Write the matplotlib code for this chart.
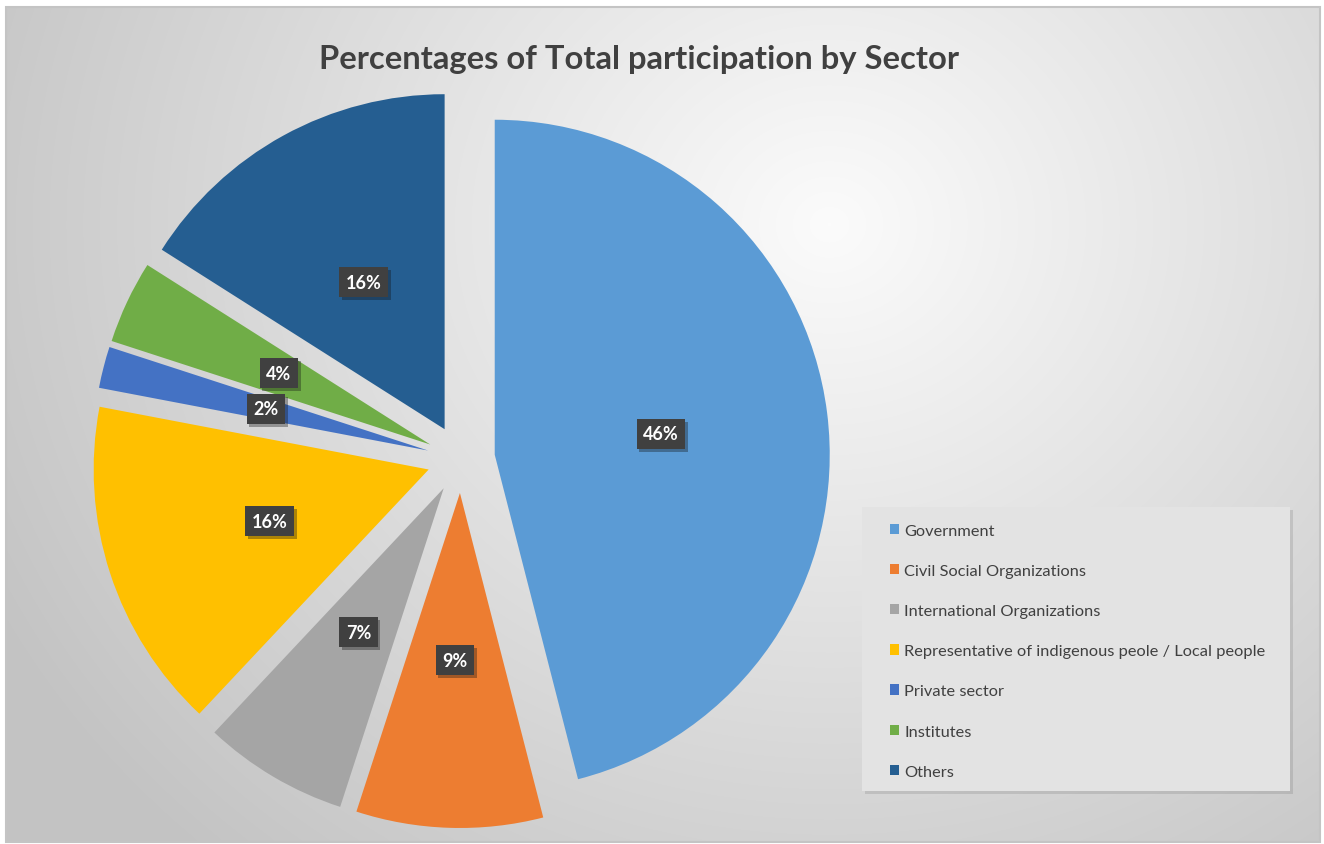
import matplotlib
matplotlib.use('Agg')
import matplotlib.pyplot as plt
import matplotlib.patheffects as pe
from matplotlib.patches import Rectangle
import numpy as np

sectors = ['Government', 'Civil Social Organizations', 'International Organizations',
           'Representative of indigenous peole / Local people', 'Private sector',
           'Institutes', 'Others']
shares = [46, 9, 7, 16, 2, 4, 16]
colors = ['#5B9BD5', '#ED7D31', '#A5A5A5', '#FFC000', '#4472C4', '#70AD47', '#255E91']

W, H = 1324, 845
plt.rcParams['font.family'] = ['Lato', 'DejaVu Sans']

fig = plt.figure(figsize=(W / 100, H / 100), dpi=100)
fig.patch.set_facecolor('white')

# chart area with soft radial gradient
bg = fig.add_axes([0, 0, 1, 1])
bg.set_xlim(0, W)
bg.set_ylim(0, H)
bg.axis('off')
x0, x1, y0, y1 = 6, 1320, 2, 837
gx, gy = np.meshgrid(np.linspace(x0, x1, 400), np.linspace(y1, y0, 260))
d = np.sqrt(((gx - 830) / 1.0) ** 2 + ((gy - 620) / 0.9) ** 2)
shade = 0.985 - 0.22 * np.clip(d / 950, 0, 1) ** 1.0
bg.imshow(np.dstack([shade] * 3), extent=(x0, x1, y0, y1), origin='upper',
          aspect='auto', interpolation='bicubic', zorder=0)
bg.add_patch(Rectangle((x0, y0), x1 - x0, y1 - y0, fill=False, edgecolor='#c4c4c4', lw=1.5, zorder=1))

ax = fig.add_axes([0, 0, 1, 1])
ax.patch.set_alpha(0)
wedges, texts, autotexts = ax.pie(
    shares, colors=colors, explode=[34] * len(shares), radius=335, center=(461, 385),
    startangle=90, counterclock=False, autopct='%1.0f%%', pctdistance=0.5,
    wedgeprops=dict(linewidth=0))
ax.set_xlim(0, W)
ax.set_ylim(0, H)
ax.axis('off')

for t in autotexts:
    t.set_color('white')
    t.set_fontsize(13)
    t.set_fontweight('bold')
    t.set_bbox(dict(boxstyle='square,pad=0.36', facecolor='#404040', edgecolor='none'))
    t.get_bbox_patch().set_path_effects([pe.SimplePatchShadow(offset=(2, -2), alpha=0.35), pe.Normal()])

ax.text(639, H - 59, 'Percentages of Total participation by Sector', ha='center', va='center',
        fontsize=23.6, fontweight='bold', color='#404040')

# legend panel
ax.add_patch(Rectangle((862, H - 792), 428, 284, facecolor='#e3e3e3', edgecolor='none',
                       path_effects=[pe.SimplePatchShadow(offset=(2, -2), alpha=0.15), pe.Normal()]))
leg = ax.legend(wedges, sectors, loc='upper left', bbox_to_anchor=(883 / W, 1 - 518 / H),
                frameon=False, fontsize=11.8, handlelength=0.6, handleheight=0.6,
                handletextpad=0.3, labelspacing=1.6, borderaxespad=0)
for t in leg.get_texts():
    t.set_color('#404040')

fig.savefig('out.png', dpi=100)
